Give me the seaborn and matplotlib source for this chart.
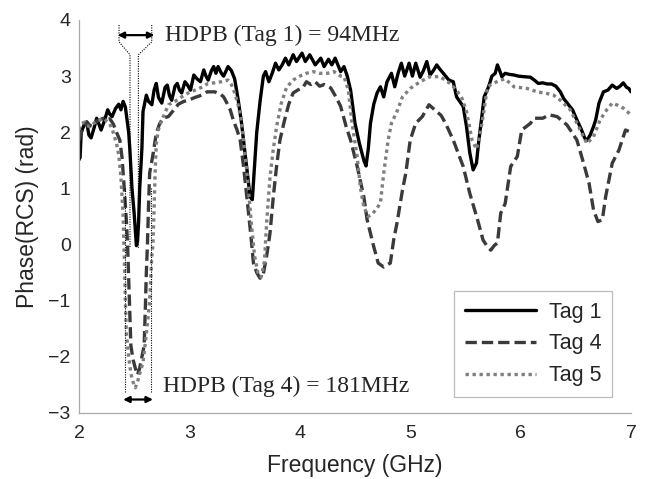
import numpy as np
import pandas as pd
import seaborn as sns
import matplotlib
matplotlib.use("Agg")
import matplotlib.pyplot as plt

# frequency (GHz) / phase (rad)
tag1_f = [2.00, 2.01, 2.02, 2.05, 2.07, 2.09, 2.11, 2.14, 2.16, 2.18, 2.20, 2.23, 2.26, 2.28,
          2.30, 2.33, 2.36, 2.38, 2.40, 2.42, 2.43, 2.45, 2.46, 2.48, 2.50, 2.52, 2.53, 2.54,
          2.55, 2.57, 2.58, 2.61, 2.63, 2.66, 2.68, 2.70, 2.72, 2.75, 2.78, 2.80, 2.82, 2.84,
          2.87, 2.89, 2.91, 2.93, 2.96, 2.98, 3.01, 3.04, 3.07, 3.10, 3.13, 3.15, 3.17, 3.20,
          3.22, 3.24, 3.26, 3.29, 3.31, 3.35, 3.38, 3.41, 3.44, 3.47, 3.50, 3.53, 3.55, 3.57,
          3.59, 3.61, 3.64, 3.67, 3.69, 3.72, 3.75, 3.78, 3.81, 3.84, 3.87, 3.90, 3.94, 3.97,
          4.02, 4.05, 4.09, 4.14, 4.19, 4.22, 4.26, 4.29, 4.32, 4.37, 4.40, 4.43, 4.46, 4.50,
          4.54, 4.58, 4.60, 4.62, 4.64, 4.67, 4.70, 4.73, 4.76, 4.79, 4.83, 4.86, 4.89, 4.92,
          4.95, 4.99, 5.02, 5.05, 5.09, 5.12, 5.15, 5.18, 5.21, 5.24, 5.27, 5.30, 5.35, 5.39,
          5.42, 5.48, 5.51, 5.54, 5.57, 5.60, 5.62, 5.65, 5.67, 5.71, 5.74, 5.77, 5.79, 5.81,
          5.83, 5.86, 5.90, 5.94, 5.98, 6.03, 6.09, 6.13, 6.16, 6.20, 6.24, 6.28, 6.32, 6.36,
          6.39, 6.43, 6.47, 6.51, 6.55, 6.58, 6.60, 6.63, 6.66, 6.68, 6.71, 6.75, 6.79, 6.83,
          6.87, 6.90, 6.93, 6.96, 6.98, 7.00]
tag1_p = [1.51, 1.55, 2.00, 2.15, 2.17, 1.95, 1.90, 2.10, 2.25, 2.15, 2.04, 2.20, 2.40, 2.32,
          2.28, 2.42, 2.50, 2.40, 2.55, 2.45, 2.30, 2.00, 1.72, 1.00, 0.55, -0.02, 0.05, 0.40,
          1.00, 1.72, 2.37, 2.66, 2.55, 2.49, 2.75, 2.87, 2.62, 2.52, 2.80, 2.84, 2.65, 2.57,
          2.82, 2.87, 2.75, 2.70, 2.90, 2.85, 2.75, 3.02, 2.95, 2.90, 3.11, 3.00, 2.93, 3.10,
          3.17, 3.05, 3.17, 3.05, 3.00, 3.17, 3.10, 2.95, 2.60, 2.20, 1.70, 1.20, 0.85, 0.80,
          1.40, 2.00, 2.55, 3.00, 3.08, 2.90, 3.05, 3.23, 3.11, 3.20, 3.32, 3.20, 3.38, 3.26,
          3.41, 3.26, 3.38, 3.20, 3.32, 3.17, 3.30, 3.20, 3.32, 3.08, 3.17, 3.00, 2.75, 2.16,
          1.80, 1.50, 1.40, 1.70, 2.16, 2.50, 2.70, 2.81, 2.63, 2.90, 3.05, 2.81, 3.05, 3.23,
          3.00, 3.23, 3.00, 3.23, 2.98, 3.10, 3.26, 3.02, 3.10, 3.20, 3.12, 3.05, 2.93, 2.90,
          2.63, 2.46, 2.10, 1.63, 1.33, 1.45, 1.83, 2.30, 2.63, 2.81, 3.00, 3.05, 3.20, 3.10,
          2.99, 3.05, 3.03, 3.02, 3.00, 2.99, 2.98, 2.92, 2.87, 2.88, 2.86, 2.86, 2.82, 2.72,
          2.60, 2.50, 2.40, 2.22, 2.05, 1.90, 1.85, 1.95, 2.10, 2.22, 2.52, 2.72, 2.75, 2.84,
          2.78, 2.82, 2.88, 2.80, 2.78, 2.72]

tag4_f = [2.00, 2.02, 2.05, 2.07, 2.10, 2.13, 2.16, 2.19, 2.22, 2.25, 2.28, 2.31, 2.34, 2.37,
          2.39, 2.41, 2.43, 2.44, 2.45, 2.46, 2.47, 2.49, 2.51, 2.53, 2.55, 2.57, 2.59, 2.60,
          2.61, 2.62, 2.63, 2.64, 2.67, 2.70, 2.73, 2.76, 2.81, 2.86, 2.90, 2.95, 2.99, 3.05,
          3.11, 3.16, 3.23, 3.28, 3.31, 3.34, 3.37, 3.40, 3.43, 3.46, 3.49, 3.53, 3.56, 3.58,
          3.61, 3.64, 3.67, 3.70, 3.73, 3.76, 3.79, 3.82, 3.86, 3.90, 3.94, 3.98, 4.03, 4.06,
          4.10, 4.14, 4.18, 4.22, 4.28, 4.33, 4.37, 4.42, 4.46, 4.52, 4.58, 4.61, 4.67, 4.71,
          4.76, 4.79, 4.82, 4.85, 4.88, 4.93, 4.96, 5.00, 5.05, 5.08, 5.11, 5.17, 5.24, 5.28,
          5.32, 5.39, 5.44, 5.48, 5.54, 5.61, 5.66, 5.70, 5.73, 5.76, 5.79, 5.82, 5.86, 5.91,
          5.97, 6.01, 6.09, 6.12, 6.20, 6.26, 6.33, 6.42, 6.51, 6.57, 6.62, 6.66, 6.70, 6.74,
          6.77, 6.83, 6.89, 6.95, 7.00]
tag4_p = [1.85, 2.00, 2.10, 2.19, 2.12, 2.10, 2.20, 2.22, 2.25, 2.22, 2.24, 2.15, 2.00, 1.86,
          1.55, 1.00, 0.40, 0.00, -0.60, -1.20, -1.80, -2.05, -2.20, -2.32, -2.20, -2.00, -1.80, -1.20,
          -0.50, 0.00, 0.70, 1.27, 1.60, 1.98, 2.15, 2.25, 2.28, 2.40, 2.50, 2.55, 2.57, 2.62,
          2.66, 2.72, 2.72, 2.68, 2.63, 2.52, 2.40, 2.20, 2.05, 1.86, 1.40, 0.67, 0.10, -0.33,
          -0.50, -0.60, -0.52, -0.20, 0.20, 0.85, 1.40, 1.86, 2.20, 2.50, 2.70, 2.75, 2.80, 2.90,
          2.85, 2.90, 2.82, 2.85, 2.79, 2.62, 2.46, 2.10, 1.86, 1.39, 0.85, 0.44, -0.04, -0.33,
          -0.40, -0.36, -0.33, 0.08, 0.38, 0.97, 1.27, 1.86, 2.16, 2.22, 2.28, 2.49, 2.37, 2.30,
          2.16, 1.86, 1.60, 1.39, 0.91, 0.44, 0.08, -0.04, -0.10, -0.02, 0.03, 0.56, 0.73, 1.39,
          1.57, 2.04, 2.16, 2.25, 2.25, 2.31, 2.28, 2.13, 1.86, 1.45, 1.09, 0.62, 0.41, 0.44,
          0.85, 1.45, 1.68, 2.04, 2.00]

tag5_f = [2.00, 2.02, 2.05, 2.07, 2.10, 2.13, 2.16, 2.19, 2.22, 2.25, 2.28, 2.31, 2.34, 2.36,
          2.38, 2.40, 2.41, 2.42, 2.43, 2.45, 2.47, 2.49, 2.51, 2.53, 2.55, 2.58, 2.61, 2.64,
          2.66, 2.67, 2.68, 2.69, 2.70, 2.72, 2.75, 2.78, 2.81, 2.87, 2.93, 2.99, 3.05, 3.11,
          3.17, 3.23, 3.29, 3.35, 3.38, 3.41, 3.44, 3.47, 3.50, 3.53, 3.56, 3.59, 3.62, 3.65,
          3.68, 3.70, 3.73, 3.76, 3.79, 3.83, 3.88, 3.94, 4.00, 4.06, 4.12, 4.18, 4.25, 4.31,
          4.37, 4.40, 4.44, 4.47, 4.52, 4.55, 4.58, 4.62, 4.66, 4.70, 4.73, 4.76, 4.80, 4.83,
          4.88, 4.93, 5.00, 5.09, 5.18, 5.27, 5.36, 5.42, 5.47, 5.51, 5.56, 5.60, 5.62, 5.65,
          5.70, 5.75, 5.82, 5.86, 5.94, 6.06, 6.15, 6.24, 6.30, 6.36, 6.45, 6.54, 6.60, 6.66,
          6.72, 6.78, 6.83, 6.88, 6.93, 7.00]
tag5_p = [2.05, 2.15, 2.18, 2.12, 2.10, 2.15, 2.20, 2.22, 2.25, 2.20, 2.15, 2.00, 1.80, 1.60,
          1.20, 0.50, -0.20, -1.00, -1.60, -2.00, -2.30, -2.45, -2.55, -2.45, -2.30, -2.10, -1.60, -1.00,
          -0.20, 0.00, 0.60, 1.30, 1.80, 2.05, 2.22, 2.35, 2.49, 2.55, 2.63, 2.70, 2.75, 2.80,
          2.87, 2.88, 2.90, 2.93, 2.85, 2.70, 2.50, 2.20, 1.70, 1.10, 0.40, -0.20, -0.50, -0.58,
          -0.30, 0.40, 1.20, 1.70, 2.10, 2.50, 2.80, 2.93, 3.00, 3.05, 3.08, 3.05, 3.05, 3.08,
          3.00, 2.99, 2.75, 2.20, 1.56, 1.00, 0.67, 0.50, 0.55, 0.65, 0.74, 1.27, 1.86, 2.16,
          2.37, 2.63, 2.78, 2.90, 2.99, 2.99, 2.87, 2.75, 2.60, 2.37, 1.86, 1.70, 1.85, 2.16,
          2.81, 2.87, 2.93, 2.95, 2.81, 2.78, 2.72, 2.69, 2.66, 2.57, 2.40, 2.04, 1.80, 1.92,
          2.22, 2.40, 2.52, 2.48, 2.43, 2.31]

series = [("Tag 1", tag1_f, tag1_p), ("Tag 4", tag4_f, tag4_p), ("Tag 5", tag5_f, tag5_p)]
colors = {"Tag 1": "#000000", "Tag 4": "#3a3a3a", "Tag 5": "#7f7f7f"}
styles = {"Tag 1": "-", "Tag 4": (0, (3.4, 1.5)), "Tag 5": (0, (1, 1.1))}

sns.set_style("white")
plt.rcParams["font.family"] = ["Liberation Sans", "DejaVu Sans"]

fig = plt.figure(figsize=(6.49, 4.79), dpi=100)
ax = fig.add_axes([0.1217, 0.1378, 0.8506, 0.8205])

for name, f, p in series:
    df = pd.DataFrame({"f": f, "p": p})
    sns.lineplot(data=df, x="f", y="p", ax=ax, color=colors[name], linestyle=styles[name],
                 linewidth=2.4, label=name, sort=False, estimator=None)

ax.set_xlim(2, 7)
ax.set_ylim(-3, 4)
ax.set_xticks([2, 3, 4, 5, 6, 7])
ax.set_yticks(range(-3, 5))
ax.tick_params(direction="in", length=4, color="#999999", labelsize=14)
ax.tick_params(axis="x", pad=9)
ax.tick_params(axis="y", pad=6)
for side in ["top", "right"]:
    ax.spines[side].set_visible(False)
for side in ["left", "bottom"]:
    ax.spines[side].set_color("#aaaaaa")
    ax.spines[side].set_linewidth(0.9)
ax.set_xlabel("Frequency (GHz)", fontsize=16.5, labelpad=8)
ax.set_ylabel("Phase(RCS) (rad)", fontsize=16.5, labelpad=7)

# HDPB markers
dot = dict(color="black", linestyle=(0, (1, 1.2)), linewidth=0.8)
ax.plot([2.363, 2.363, 2.462, 2.462], [3.91, 3.61, 3.38, -0.06], **dot)
ax.plot([2.659, 2.659, 2.538, 2.538], [3.91, 3.61, 3.38, -0.06], **dot)
ax.plot([2.417, 2.417], [1.0, -2.65], **dot)
ax.plot([2.653, 2.653], [1.0, -2.65], **dot)
arrow = dict(arrowstyle="<|-|>", color="black", lw=1.6, mutation_scale=9, shrinkA=0, shrinkB=0)
ax.annotate("", xy=(2.35, 3.73), xytext=(2.683, 3.73), arrowprops=arrow)
ax.annotate("", xy=(2.40, -2.76), xytext=(2.67, -2.76), arrowprops=arrow)
ax.text(2.78, 3.73, "HDPB (Tag 1) = 94MHz", fontsize=17, va="center",
        family=["Liberation Serif", "DejaVu Serif"])
ax.text(2.76, -2.53, "HDPB (Tag 4) = 181MHz", fontsize=17, va="center",
        family=["Liberation Serif", "DejaVu Serif"])

leg = ax.legend(loc="lower right", bbox_to_anchor=(0.966, 0.041), borderaxespad=0,
                fontsize=15.5, frameon=True, fancybox=False, edgecolor="#aaaaaa",
                handlelength=3.3, labelspacing=0.5, borderpad=0.5, handletextpad=0.6)
leg.get_frame().set_linewidth(0.9)

fig.savefig("out.png", dpi=100)
